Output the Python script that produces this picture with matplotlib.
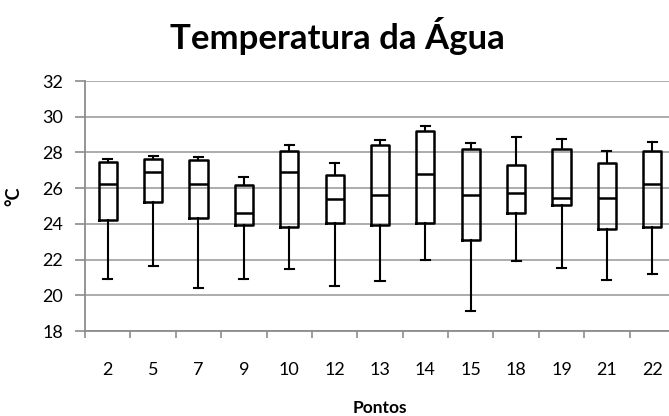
import matplotlib
matplotlib.use("Agg")
import matplotlib.pyplot as plt

plt.rcParams['font.family'] = ['Lato', 'DejaVu Sans']

# Sampling points and the five-number summary for each one (°C)
pontos = ["2", "5", "7", "9", "10", "12", "13", "14", "15", "18", "19", "21", "22"]
minimo = [20.94, 21.64, 20.42, 20.94, 21.47, 20.52, 20.82, 21.99, 19.11, 21.90, 21.55, 20.87, 21.22]
q1 = [24.24, 25.22, 24.33, 23.93, 23.83, 24.07, 23.91, 24.06, 23.12, 24.59, 25.03, 23.72, 23.83]
mediana = [26.25, 26.88, 26.25, 24.59, 26.88, 25.40, 25.64, 26.78, 25.64, 25.73, 25.47, 25.47, 26.25]
q3 = [27.48, 27.65, 27.58, 26.16, 28.07, 26.76, 28.44, 29.22, 28.17, 27.30, 28.17, 27.39, 28.07]
maximo = [27.65, 27.82, 27.72, 26.60, 28.44, 27.39, 28.70, 29.49, 28.52, 28.87, 28.77, 28.09, 28.61]

yticks = [18, 20, 22, 24, 26, 28, 30, 32]

fig = plt.figure(figsize=(6.69, 4.16), dpi=100)
ax = fig.add_axes([85 / 669, 85 / 416, 590 / 669, 250 / 416])

stats = []
for lab, lo, a, m, b, hi in zip(pontos, minimo, q1, mediana, q3, maximo):
    stats.append(dict(label=lab, whislo=lo, q1=a, med=m, q3=b, whishi=hi, fliers=[]))

pos = list(range(len(pontos)))
ax.bxp(stats, positions=pos, widths=0.4, capwidths=0.2, showfliers=False,
       boxprops=dict(color='black', linewidth=1.8),
       medianprops=dict(color='black', linewidth=1.8),
       whiskerprops=dict(color='black', linewidth=1.5),
       capprops=dict(color='black', linewidth=1.5),
       zorder=3)

ax.set_xlim(-0.5, len(pontos) - 0.5)
ax.set_ylim(18, 32)
ax.set_yticks(yticks)
ax.set_yticklabels([str(v) for v in yticks])
ax.yaxis.grid(True, color='#a6a6a6', linewidth=1.3)
ax.set_axisbelow(True)

# categories labelled at centers, tick marks at the boundaries
ax.set_xticks(pos)
ax.set_xticklabels(pontos)
ax.set_xticks([p - 0.5 for p in pos] + [len(pontos) - 0.5], minor=True)
ax.tick_params(axis='x', which='major', length=0, pad=22, labelsize=13)
ax.tick_params(axis='x', which='minor', length=5, width=1.2, color='#8c8c8c', direction='out')
ax.tick_params(axis='y', length=7, width=1.2, color='#8c8c8c', direction='out', pad=9, labelsize=13)

for side in ['top', 'right']:
    ax.spines[side].set_visible(False)
for side in ['left', 'bottom']:
    ax.spines[side].set_color('#8c8c8c')
    ax.spines[side].set_linewidth(1.3)

fig.text(337 / 669, 1 - 36 / 416, "Temperatura da Água", ha='center', va='center',
         fontsize=25, fontweight='bold')
fig.text(380 / 669, 1 - 408 / 416, "Pontos", ha='center', va='center',
         fontsize=12.5, fontweight='bold')
fig.text(14 / 669, 1 - 196 / 416, "°C", ha='center', va='center', rotation=90,
         fontsize=13, fontweight='bold')

fig.savefig("out.png", dpi=100)
